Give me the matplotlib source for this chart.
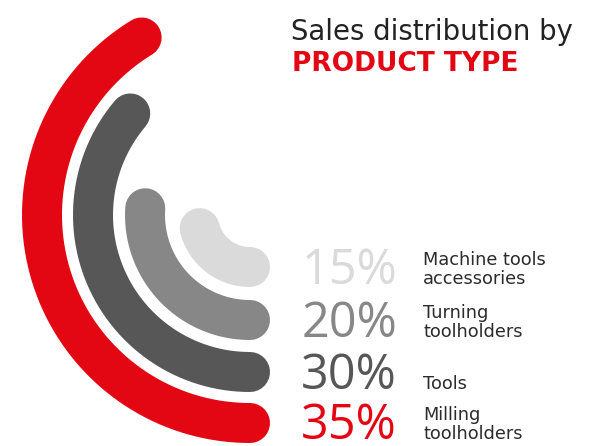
import numpy as np
import matplotlib
matplotlib.use("Agg")
import matplotlib.pyplot as plt

# Data
categories = ["Milling\ntoolholders", "Tools", "Turning\ntoolholders", "Machine tools\naccessories"]
values = [35, 30, 20, 15]
pct_labels = ["35%", "30%", "20%", "15%"]
colors = ["#E30613", "#575757", "#878787", "#DADADA"]

W, H = 595, 446
fig = plt.figure(figsize=(W / 100, H / 100), dpi=100)
ax = fig.add_axes([0, 0, 1, 1])
ax.set_xlim(0, W)
ax.set_ylim(H, 0)
ax.axis("off")

cx, cy = 250, 215
radii = [208, 157, 105, 52]
lw_px = 40

for v, r, c in zip(values, radii, colors):
    span = 20.5 + 3.66 * v
    th = np.radians(np.linspace(270 - span, 270, 300))
    x = cx + r * np.cos(th)
    y = cy - r * np.sin(th)
    ax.plot(x, y, color=c, lw=lw_px * 72 / 100, solid_capstyle="round")

font = "DejaVu Sans"
baselines = [439, 389, 337, 284]
for lab, pl, c, b in zip(categories, pct_labels, colors, baselines):
    ax.text(397, b, pl, ha="right", va="baseline", fontsize=35, color=c,
            family="Open Sans", fontweight="normal")
    ax.text(423, b, lab, ha="left", va="baseline", fontsize=12.8, color="#2b2b2b",
            family=font, linespacing=1.05)

ax.text(291, 40, "Sales distribution by", ha="left", va="baseline", fontsize=19.8,
        color="#222222", family=font)
ax.text(292, 71, "PRODUCT TYPE", ha="left", va="baseline", fontsize=19,
        color="#E30613", family=font, fontweight="bold")

fig.savefig("out.png", dpi=100)
